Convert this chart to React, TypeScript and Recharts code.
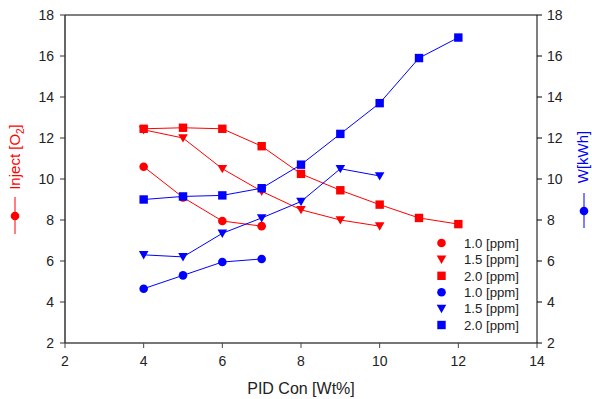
import React from 'react';
import { ComposedChart, Scatter, XAxis, YAxis, ReferenceLine } from 'recharts';

const xTicks = [2, 4, 6, 8, 10, 12, 14];
const yTicks = [2, 4, 6, 8, 10, 12, 14, 16, 18];

const injX1 = [4, 5, 6, 7];
const injY1 = [10.6, 9.1, 7.95, 7.7];
const injX15 = [4, 5, 6, 7, 8, 9, 10];
const injY15 = [12.4, 12.0, 10.5, 9.4, 8.5, 8.0, 7.7];
const injX2 = [4, 5, 6, 7, 8, 9, 10, 11, 12];
const injY2 = [12.45, 12.5, 12.45, 11.6, 10.25, 9.45, 8.75, 8.1, 7.8];

const wX1 = [4, 5, 6, 7];
const wY1 = [4.65, 5.3, 5.95, 6.1];
const wX15 = [4, 5, 6, 7, 8, 9, 10];
const wY15 = [6.3, 6.2, 7.35, 8.1, 8.9, 10.5, 10.15];
const wX2 = [4, 5, 6, 7, 8, 9, 10, 11, 12];
const wY2 = [9.0, 9.15, 9.2, 9.55, 10.7, 12.2, 13.7, 15.9, 16.9];

const legendLabels = ['1.0 [ppm]', '1.5 [ppm]', '2.0 [ppm]', '1.0 [ppm]', '1.5 [ppm]', '2.0 [ppm]'];

const RED = '#ff0000';
const BLUE = '#0000ff';
const FONT = '"Liberation Sans", Arial, sans-serif';

const zip = (xs: number[], ys: number[]) => xs.map((x, i) => ({ x, y: ys[i] }));

type Kind = 'circle' | 'tri' | 'square';

const drawMarker = (kind: Kind, color: string, cx: number, cy: number) => {
  if (kind === 'circle') return <circle cx={cx} cy={cy} r={4.3} fill={color} />;
  if (kind === 'square') return <rect x={cx - 4.2} y={cy - 4.2} width={8.4} height={8.4} fill={color} />;
  return <polygon points={`${cx - 4.8},${cy - 3.8} ${cx + 4.8},${cy - 3.8} ${cx},${cy + 4.6}`} fill={color} />;
};

const makeShape = (kind: Kind, color: string) => (props: any) => {
  const { cx, cy } = props;
  if (cx == null || cy == null) return <g />;
  return drawMarker(kind, color, cx, cy);
};

const series = [
  { data: zip(injX1, injY1), axis: 'left', kind: 'circle' as Kind, color: RED },
  { data: zip(injX15, injY15), axis: 'left', kind: 'tri' as Kind, color: RED },
  { data: zip(injX2, injY2), axis: 'left', kind: 'square' as Kind, color: RED },
  { data: zip(wX1, wY1), axis: 'right', kind: 'circle' as Kind, color: BLUE },
  { data: zip(wX15, wY15), axis: 'right', kind: 'tri' as Kind, color: BLUE },
  { data: zip(wX2, wY2), axis: 'right', kind: 'square' as Kind, color: BLUE },
];

const tickStyle = { fill: '#222', fontSize: 14, fontFamily: FONT };

export default function App() {
  return (
    <div style={{ position: 'absolute', left: 0, top: 0, width: 592, height: 399, background: '#fff' }}>
      <ComposedChart width={592} height={399} margin={{ top: 15, right: 15, bottom: 16, left: 15 }}>
        <XAxis
          dataKey="x"
          type="number"
          domain={[2, 14]}
          ticks={xTicks}
          interval={0}
          allowDataOverflow
          axisLine={{ stroke: '#777', strokeWidth: 2 }}
          tickLine={{ stroke: '#444' }}
          tickSize={5}
          tickMargin={8}
          tick={tickStyle}
          height={40}
        />
        <YAxis
          yAxisId="left"
          dataKey="y"
          type="number"
          domain={[2, 18]}
          ticks={yTicks}
          interval={0}
          allowDataOverflow
          width={50}
          axisLine={{ stroke: '#333', strokeWidth: 1.5 }}
          tickLine={{ stroke: '#333' }}
          tickSize={5}
          tickMargin={6}
          tick={tickStyle}
        />
        <YAxis
          yAxisId="right"
          orientation="right"
          dataKey="y"
          type="number"
          domain={[2, 18]}
          ticks={yTicks}
          interval={0}
          allowDataOverflow
          width={40}
          axisLine={{ stroke: '#000', strokeWidth: 1 }}
          tickLine={{ stroke: '#000' }}
          tickSize={5}
          tickMargin={5}
          tick={tickStyle}
        />
        <ReferenceLine yAxisId="left" y={18} stroke="#000" strokeWidth={1} ifOverflow="extendDomain" />
        {series.map((s, i) => (
          <Scatter
            key={i}
            yAxisId={s.axis}
            data={s.data}
            dataKey="y"
            fill={s.color}
            line={{ stroke: s.color, strokeWidth: 1 }}
            lineType="joint"
            shape={makeShape(s.kind, s.color)}
            isAnimationActive={false}
          />
        ))}
      </ComposedChart>
      <svg width={592} height={399} style={{ position: 'absolute', left: 0, top: 0, pointerEvents: 'none' }}>
        <text x={301} y={394} textAnchor="middle" fill="#222" fontSize={16} fontFamily={FONT}>
          PID Con [Wt%]
        </text>
        <text
          transform="translate(20,157) rotate(-90)"
          textAnchor="middle"
          fill={RED}
          fontSize={15}
          fontFamily={FONT}
        >
          Inject [O<tspan fontSize={10} dy={4}>2</tspan><tspan dy={-4}>]</tspan>
        </text>
        <line x1={15} y1={197} x2={15} y2={234} stroke={RED} strokeWidth={1} />
        <circle cx={15} cy={216} r={4.3} fill={RED} />
        <text
          transform="translate(588,157) rotate(-90)"
          textAnchor="middle"
          fill={BLUE}
          fontSize={15}
          fontFamily={FONT}
        >
          W[kWh]
        </text>
        <line x1={584} y1={193} x2={584} y2={228} stroke={BLUE} strokeWidth={1} />
        <circle cx={584} cy={211} r={4.3} fill={BLUE} />
        {series.map((s, i) => {
          const y = 243 + i * 16.4;
          return (
            <g key={i}>
              {drawMarker(s.kind, s.color, 441.5, y)}
              <text x={464} y={y + 4.7} fontSize={13.2} fontFamily={FONT} fill="#222">
                {legendLabels[i]}
              </text>
            </g>
          );
        })}
      </svg>
    </div>
  );
}
